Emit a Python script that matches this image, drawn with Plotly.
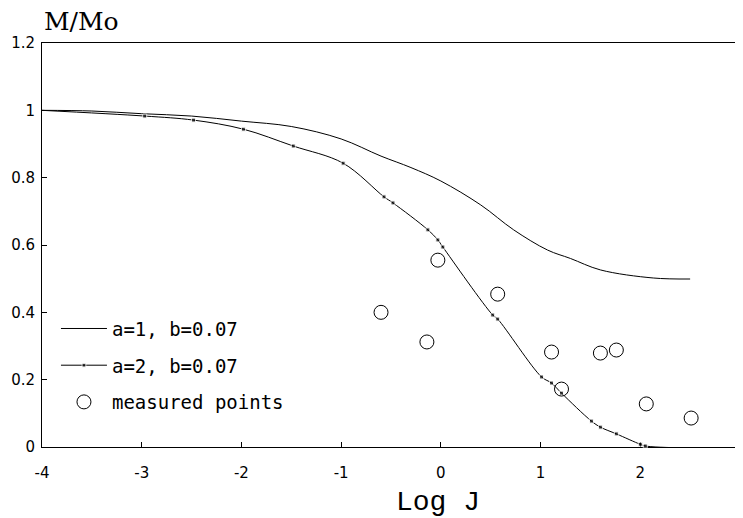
import plotly.graph_objects as go

# Curve a=1, b=0.07
x_a1 = [-4, -3.5, -3, -2.5, -2, -1.5, -1, -0.6, -0.3, 0, 0.4, 0.73, 1.07, 1.3, 1.6, 2.13, 2.5]
y_a1 = [1.0, 0.998, 0.99, 0.983, 0.968, 0.952, 0.915, 0.864, 0.83, 0.79, 0.719, 0.645, 0.585, 0.56, 0.526, 0.502, 0.499]

# Curve a=2, b=0.07 (line + markers)
x_a2 = [-4, -2.97, -2.48, -1.98, -1.48, -0.98, -0.57, -0.48, -0.13, -0.03, 0.02, 0.52, 0.57, 1.01, 1.11, 1.21, 1.51, 1.6, 1.76, 2.0, 2.05, 2.5]
y_a2 = [1.0, 0.983, 0.971, 0.944, 0.894, 0.843, 0.743, 0.725, 0.645, 0.615, 0.594, 0.392, 0.38, 0.208, 0.19, 0.16, 0.077, 0.059, 0.039, 0.008, 0.003, -0.003]
marker_a2 = [0] + [4] * (len(x_a2) - 1)

# Measured points
x_meas = [-0.6, -0.14, -0.03, 0.57, 1.11, 1.21, 1.6, 1.76, 2.06, 2.51]
y_meas = [0.40, 0.312, 0.555, 0.454, 0.282, 0.172, 0.279, 0.288, 0.128, 0.086]

x_ticks = [-4, -3, -2, -1, 0, 1, 2, 3]
x_ticktext = ["-4", "-3", "-2", "-1", "0", "1", "2", "3"]
y_ticks = [0, 0.2, 0.4, 0.6, 0.8, 1.0, 1.2]
y_ticktext = ["0", "0.2", "0.4", "0.6", "0.8", "1", "1.2"]

fig = go.Figure()
fig.add_trace(go.Scatter(x=x_a1, y=y_a1, mode="lines", name="a=1, b=0.07",
                         line=dict(color="black", width=1, shape="spline"),
                         legendgroup="g1", cliponaxis=False))
fig.add_trace(go.Scatter(x=x_a2, y=y_a2, mode="lines+markers", name="a=2, b=0.07",
                         line=dict(color="black", width=1, shape="spline"),
                         marker=dict(symbol="square", size=marker_a2, color="black"),
                         legendgroup="g2", cliponaxis=False))
fig.add_trace(go.Scatter(x=x_meas, y=y_meas, mode="markers", name="measured points",
                         marker=dict(symbol="circle-open", size=14, color="black",
                                     line=dict(width=1, color="black")),
                         legendgroup="g3", cliponaxis=False))

mono = "Liberation Mono, Courier New, monospace"

fig.update_layout(
    width=735, height=510,
    margin=dict(l=34, r=3, t=35, b=71),
    plot_bgcolor="white", paper_bgcolor="white",
    font=dict(family="DejaVu Sans, sans-serif", color="black", size=15),
    showlegend=True,
    legend=dict(x=0.02, y=0.34, xanchor="left", yanchor="top",
                bgcolor="rgba(0,0,0,0)", font=dict(family="DejaVu Sans Mono", size=19),
                tracegroupgap=9, itemwidth=46),
    xaxis=dict(range=[-4, 3], tickvals=x_ticks, ticktext=x_ticktext,
               showgrid=False, zeroline=False, showline=True, linecolor="black",
               linewidth=1, mirror=True, ticks="inside", ticklen=5, tickcolor="black",
               ticklabelstandoff=12, layer="below traces"),
    yaxis=dict(range=[0, 1.2], tickvals=y_ticks, ticktext=y_ticktext,
               showgrid=False, zeroline=False, showline=True, linecolor="black",
               linewidth=1, mirror=True, ticks="inside", ticklen=5, tickcolor="black",
               ticklabelstandoff=3, layer="below traces"),
    annotations=[
        dict(text="M/Mo", x=0, y=1.052, xref="paper", yref="paper",
             xanchor="left", yanchor="middle", showarrow=False,
             font=dict(family="DejaVu Serif, serif", size=25)),
        dict(text="Log J", x=-0.03, y=-0.137, xref="x", yref="paper",
             xanchor="center", yanchor="middle", showarrow=False,
             font=dict(family=mono, size=28)),
    ],
)

fig.write_html("out.html")
